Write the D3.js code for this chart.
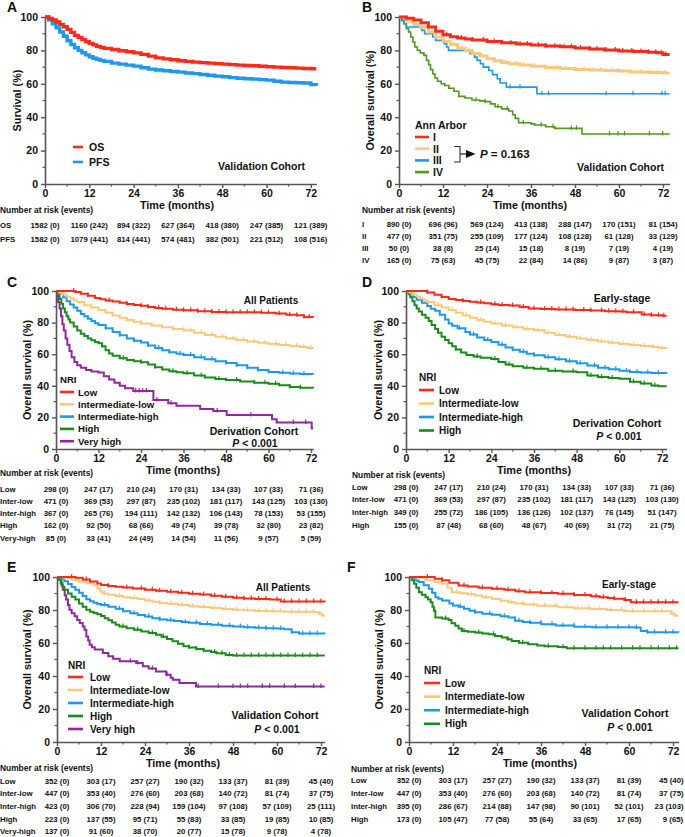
<!DOCTYPE html>
<html><head><meta charset="utf-8">
<script src="https://cdn.jsdelivr.net/npm/d3@7"></script>
<style>
body{margin:0;background:#fff}
svg{display:block}
text{font-family:"Liberation Sans",Arial,sans-serif;font-weight:bold;fill:#111}
</style>
</head><body><svg id="c" width="685" height="837"></svg>
<script>
// ---------------- DATA ----------------
const monthTicks = [0,12,24,36,48,60,72];
const monthMinor = [6,18,30,42,54,66];
const survTicks = [0,20,40,60,80,100];
const survMinor = [10,30,50,70,90];

// Panel A
const A_OS = [[0,100],[1,99.2],[2,98.2],[3,97],[4,95.6],[5,94.2],[6,92.6],[7,90.8],[8,89],[9,87.8],[10,86.5],[11,85.2],[12,84.2],[13,83.3],[14,82.4],[15,81.8],[16,81.2],[18,80.5],[20,79.8],[22,79.2],[24,78.5],[26,77.6],[28,76.6],[30,75.5],[32,74.9],[34,74.4],[36,73.8],[38,73.4],[40,73],[42,72.7],[44,72.4],[46,72.1],[48,71.8],[50,71.5],[52,71.2],[54,71],[56,70.8],[58,70.5],[60,70.2],[62,70],[64,69.8],[66,69.6],[68,69.4],[70,69.2],[72,69],[73.5,69]];
const A_PFS = [[0,100],[1,98.3],[2,96],[3,93.5],[4,91],[5,88.5],[6,85.8],[7,83.5],[8,81.6],[9,80],[10,78.6],[11,77.3],[12,76.2],[13,75.3],[14,74.6],[15,74],[16,73.4],[18,72.4],[20,71.8],[22,71.2],[24,70.6],[26,69.6],[28,68.8],[30,68.3],[32,67.8],[34,67.4],[36,67],[38,66.5],[40,66.1],[42,65.6],[44,65.1],[46,64.6],[48,64.2],[50,63.7],[52,63.3],[54,63],[56,62.8],[58,62.5],[60,62.2],[62,61.5],[64,61],[66,60.8],[68,60.6],[70,60.5],[72,59.5],[73.5,58.8]];
const A_labels = ["OS","PFS"];
const A_risk = [["1582 (0)","1160 (242)","894 (322)","627 (364)","418 (380)","247 (385)","121 (389)"],
                ["1582 (0)","1079 (441)","814 (441)","574 (481)","382 (501)","221 (512)","108 (516)"]];

// Panel B
const B_I = [[0,100],[2,99.3],[4,98.2],[6,96.5],[8,94],[10,91.5],[12,89.3],[14,88.2],[16,87.4],[18,86.8],[20,86.3],[24,85.4],[28,84.6],[32,83.9],[36,83.2],[40,82.7],[44,82.2],[48,81.5],[52,80.8],[56,80.2],[60,79.7],[64,79.3],[68,78.9],[70.5,78.6],[72,77.6],[73.8,77.6]];
const B_II = [[0,100],[2,97.5],[4,95.5],[6,93.8],[8,91],[10,88],[12,85.5],[14,83.5],[16,81.5],[18,79.8],[20,78.2],[22,76.6],[24,75],[26,73.8],[28,72.8],[30,72],[33,71.2],[36,70.5],[40,69.8],[44,69.2],[48,68.6],[52,68.2],[56,68],[60,67.7],[63,67],[68,66.8],[72,66.5],[73.8,66.5]];
const B_III = [[0,100],[0.6,98],[1.4,96],[2,94],[6.2,92],[7,90],[9.2,88],[10,86],[12.3,84],[13,82],[13.5,80],[19.4,78],[20.6,76],[21.3,74],[22.2,72],[23,70],[24.5,68],[25.5,65.5],[26.8,63],[27.6,60.5],[29.3,58],[37.6,54],[73.8,54]];
const B_IV = [[0,100],[0.8,98],[1.4,96],[2,93],[2.6,91],[3.2,88],[3.8,85],[4.3,82],[5,80],[5.8,78.5],[6.8,77],[7.5,74],[8.1,71.5],[8.6,68.5],[9.2,66],[9.8,63.5],[10.5,61.5],[11.5,60],[12.5,59],[13.6,57.3],[15,55.5],[16.3,52.5],[18,51.5],[19.9,50.3],[22,49.8],[23.5,49.3],[25,48],[26.2,46.3],[28,45],[29.9,43.7],[31,41.5],[31.7,39.3],[32.6,36.7],[36,36],[37,35.3],[40,34.3],[42.5,33.3],[49.9,29.9],[73.8,29.9]];
const B_cI = [13,17,20,23,26,28,30.5,33,35,38,40,42.5,45,47,49.5,52,54,56.5,59,61,63.5,66,68,70,71.5,72.8];
const B_cII = [15,19,22.5,26,29,32,34,37,40,43,45.5,48,50.5,53,55,58,60,63,66,68.5,70.5,72.5];
const B_cIII = [30.3,33,39,40.8,56.5,63.8,71.7,72.6];
const B_cIV = [21,23.5,27,29.5,33.9,38.8,42,47,48.4,57.4,59.7,61.5,68.3,71.9];
const B_labels = ["I","II","III","IV"];
const B_risk = [["890 (0)","696 (96)","569 (124)","413 (138)","288 (147)","170 (151)","81 (154)"],
                ["477 (0)","351 (75)","255 (109)","177 (124)","108 (128)","61 (128)","33 (129)"],
                ["50 (0)","38 (8)","25 (14)","15 (18)","8 (19)","7 (19)","4 (19)"],
                ["165 (0)","75 (63)","45 (75)","22 (84)","14 (86)","9 (87)","3 (87)"]];

// Panel C
const C_low = [[0,100],[4,100],[5.5,99.3],[7,98.3],[9,97],[11,95.6],[12.5,94.8],[14,94],[16,93.3],[18,92.6],[20,91.8],[22,91.2],[24,90.6],[26,89.8],[28,89.2],[30,88.8],[33,88.2],[36,87.8],[40,87.2],[44,86.7],[48,86.5],[54,86.5],[58,86.3],[62,85.7],[65,85],[68,84.6],[70,83.6],[72.6,83.4]];
const C_il = [[0,100],[1,99],[2,97.8],[3,96.5],[4,95.2],[5,94],[6,93],[8,91],[10,89.5],[12,88],[14,86.2],[16,84.5],[18,83],[20,81.6],[22,80.5],[24,79.5],[27,78.2],[30,77],[33,76],[36,75.1],[39,73.6],[42,72.2],[45,71],[48,70],[51,69],[54,68],[57,67.2],[60,66.5],[63,65.8],[66,65.2],[69,64.6],[71,64],[72.6,63.8]];
const C_ih = [[0,100],[1,98.5],[2,96],[3,93.5],[4,91.5],[5,89.5],[6,87.5],[7,85.5],[8,84],[9,82.5],[10,81],[11,79.6],[12,78.5],[14,76.5],[16,74],[18,72],[20,70],[22,68.5],[24,67.4],[26,65.5],[28,64],[30,62.5],[32,61.3],[34,60.3],[36,59.5],[39,58],[42,56.8],[45,55.5],[48,54.4],[51,53],[54,51.5],[57,50],[60,48.8],[63,48.2],[66,47.8],[69,47.5],[72.6,47.3]];
const C_hi = [[0,100],[0.5,97.5],[1,95],[1.5,92],[2,89],[2.5,86.5],[3,84],[3.5,82],[4,80],[5,77.5],[6,75],[7,73],[8,71.5],[9,70],[10,68.8],[11,67.8],[12,67],[13,65],[14,62.5],[15,60.5],[16,59],[18,57.5],[20,56.3],[22,55.5],[24,54.9],[26,53.5],[28,51.8],[30,50.3],[32,49.2],[34,48.5],[36,47.9],[39,46.5],[42,45.2],[45,44.3],[48,43.7],[52,42.8],[56,42],[60,41.3],[63,40.3],[66,39.3],[69,38.8],[72.6,38.4]];
const C_vh = [[0,100],[0.3,97],[0.6,93],[1,89],[1.4,84],[1.8,79],[2.2,75],[2.7,70],[3.2,66],[3.8,62],[4.4,58],[5.2,55],[6,53],[7,51.5],[8.5,50],[10,49],[12,48.4],[13.5,46],[15,44],[16.5,42],[18,40],[19.5,38.5],[21.8,36.7],[27.5,31],[31.7,28.9],[34,27.4],[40.7,25.3],[44.4,24],[48.2,21.5],[61,18.8],[62.3,16.7],[72.2,13],[72.6,13]];
const C_cLow = [5,9,15,20,24,26,29,31,34,36,38,40,42,44,46,48,50,52,54,56,58,60,63,66,68,70,71.5];
const C_cIl = [8,12,16,20,24,27,30,33,36,38,41,44,47,50,53,56,59,62,65,68,70,72];
const C_cIh = [14,18,22,26,29,32,35,38,41,44,48,51,54,57,60,64,67,70];
const C_cHi = [13,19,24,28,33,37,41,46,51,56,59,62,66,69];
const C_cVh = [22.5,23.5,24.5,25.5,28.5,32.5,45.5,55,67,70.5];
const NRI5 = ["Low","Inter-low","Inter-high","High","Very-high"];
const NRI4 = ["Low","Inter-low","Inter-high","High"];
const C_risk = [["298 (0)","247 (17)","210 (24)","170 (31)","134 (33)","107 (33)","71 (36)"],
                ["471 (0)","369 (53)","297 (87)","235 (102)","181 (117)","143 (125)","103 (130)"],
                ["367 (0)","265 (76)","194 (111)","142 (132)","106 (143)","78 (153)","53 (155)"],
                ["162 (0)","92 (50)","68 (66)","49 (74)","39 (78)","32 (80)","23 (82)"],
                ["85 (0)","33 (41)","24 (49)","14 (54)","11 (56)","9 (57)","5 (59)"]];

// Panel D
const D_low = [[0,100],[4.5,100],[6,99],[8,97.6],[10,96.2],[12,95],[14,94.3],[16,93.7],[18,93.2],[20,92.8],[22,92.2],[24,91.6],[26,91.2],[29,90.8],[32,89.8],[34.5,89],[38,88.6],[42,88.3],[47.6,88],[52,87.6],[56,87.2],[60,87],[62,86.6],[66.3,85.2],[69,84.6],[72,84.4],[73.3,84.4]];
const D_il = [[0,100],[1,99],[2,97.8],[3,96.5],[4,95.2],[5,94],[6,93],[8,91],[10,89.5],[12,88],[14,86.2],[16,84.5],[18,83],[20,81.6],[22,80.5],[24,79.5],[27,78.2],[30,77],[33,76],[36,75.1],[39,73.6],[42,72.2],[45,71],[48,70],[51,69],[54,68],[57,67.2],[60,66.5],[63,65.8],[66,65.2],[69,64.6],[71,64],[73.3,63.8]];
const D_ih = [[0,100],[1,98.5],[2,96.2],[3,94.5],[4.5,92.5],[6,90.5],[7,88.8],[8.2,87.5],[9.5,85],[11,82],[12,79.5],[13,78],[14.5,76.5],[16.7,74],[18,72.5],[20,70.5],[22,69],[24,67.7],[26,66],[28,64.3],[30,62.8],[32,61.5],[34,60.3],[36,59.4],[39,58],[42,56.8],[45,55.5],[48,54.2],[51,52.8],[54,51.5],[57,50.5],[60,49.5],[63,48.8],[66,48.4],[69,48.1],[73.3,48]];
const D_hi = [[0,100],[0.7,98],[1.2,96],[1.8,93.5],[2.4,91],[3,89],[3.6,87],[4.5,85],[5.5,83],[6.4,81],[7.2,78.5],[8.2,76],[9,73.5],[10,71],[11,69],[12,67],[13,65],[14,63],[15.5,61],[17,59.5],[19,58.5],[21,57.8],[24,57],[26,55],[28,53.5],[30,52.3],[33,51.5],[36,50.8],[40,49.5],[44,49],[48,48.5],[51,46.5],[54,45.5],[57,45],[60,44.5],[63,42.5],[66,41.5],[69,40.2],[71,39.7],[73.3,39.7]];
const D_cLow = [6,10,16,21,25,27,30,33,36,39,41,43,45,47,50,52,55,57,59,61,64,67,69,71,72.5];
const D_cIl = [9,13,17,21,25,28,31,34,37,40,43,46,49,52,55,58,61,64,67,69.5,72];
const D_cIh = [15,19,23,27,30,33,36,40,43,46,49,53,56,59,62,65,68,71];
const D_cHi = [14,20,25,29,34,38,42,47,52,55,58,64,67,70];
const D_risk = [["298 (0)","247 (17)","210 (24)","170 (31)","134 (33)","107 (33)","71 (36)"],
                ["471 (0)","369 (53)","297 (87)","235 (102)","181 (117)","143 (125)","103 (130)"],
                ["349 (0)","255 (72)","186 (105)","136 (126)","102 (137)","76 (145)","51 (147)"],
                ["155 (0)","87 (48)","68 (60)","48 (67)","40 (69)","31 (72)","21 (75)"]];

// Panel E
const E_low = [[0,100],[3,100],[5,99.5],[7,98.5],[9,97.3],[11,96],[12,95.2],[14,94.6],[16,94.1],[18,93.6],[20.7,93.1],[24,92.2],[27,91.6],[30,91],[33,90.4],[36,89.9],[39,89.4],[42,88.6],[45,88],[48,87.4],[51,87],[54,86.6],[58,86.4],[61,85.1],[73,84.8]];
const E_il = [[0,100],[2,99.3],[4,98.3],[6,97.3],[8,96.3],[10,95],[11,93],[11.8,91],[12.5,90],[14,89.2],[16,88.5],[18,87.8],[20,87.2],[22,86.6],[24,85.8],[26,85],[28,84.3],[30,83.8],[33,83.1],[36,82.3],[39,81.8],[42,81.2],[45,80.6],[48,80.2],[51,79.8],[54,79.4],[58,79.2],[62,79],[66,79],[70,78.8],[71.5,77.5],[72.5,76.5],[73,76.5]];
const E_ih = [[0,100],[1,99],[2,97.5],[3,95.8],[4,94],[5,92.3],[6,90.5],[7,88.5],[8,86.5],[9,85.3],[10,84.4],[11,83.6],[12,83],[14,82],[16,80.8],[18,79.3],[20,78],[22,77],[24,76],[26,75],[28,74.3],[30,73.8],[32,73.3],[34,72.8],[36,72.2],[39,71.5],[42,71],[45,70.5],[48,70],[51,69.6],[54,69.3],[57,69],[60,68.8],[62,68.4],[64,66.5],[66,65.8],[73,65.6]];
const E_hi = [[0,100],[0.5,98.3],[1,96.2],[1.5,94],[2,92.3],[3,90],[4,88],[5,86.3],[6,84],[7,82],[8,80.2],[9,79],[10,78.2],[11,77.4],[12,76.3],[13,75],[14,73.8],[15,72.5],[16,71],[17,70],[19,69],[21,68],[23,67],[25,66],[27,65],[28.5,63.8],[30,62.5],[31.5,61],[33,59.5],[34.5,58],[36,57.2],[38,56.3],[40,55.3],[42,54.5],[43.5,53.8],[46,52.8],[48,52.5],[73,52.5]];
const E_vh = [[0,100],[0.7,98.4],[1.2,95],[1.6,92.3],[2.1,89],[2.5,86.3],[3,83],[3.4,80.2],[4,78],[4.8,76.2],[5.5,74],[6.2,72.1],[7,70],[7.5,68],[8,64],[8.5,61.5],[8.9,59],[9.5,57.5],[10.3,56],[12.5,53.9],[14,52],[15.3,50.5],[17.1,48.9],[21.6,47.9],[23.4,45.9],[25,44.5],[27,42.8],[29.8,40.8],[31,39],[31.6,37.8],[33.4,35.8],[37.9,33.7],[73,33.7]];
const E_cLow = [4,8,14,19,23,26,28,31,34,37,40,43,46,49,51,53,55,57,60,62,64,66,68,70,72];
const E_cIl = [7,13,17,21,25,28,31,34,37,40,43,46,49,52,55,57,59,61,64,66,68,70,72];
const E_cIh = [13,17,21,25,28,31,35,38,41,44,47,50,52,55,57,59,61,64,67,69,71];
const E_cHi = [18,22,26,29,36,38,40,43,45,47,49,51,53,55,57,59,61,63,65,67,69,71];
const E_cVh = [20,22,26,30,38.5,44,48,50,52,56,58,62,65,70,72];
const E_risk = [["352 (0)","303 (17)","257 (27)","190 (32)","133 (37)","81 (39)","45 (40)"],
                ["447 (0)","353 (40)","276 (60)","203 (68)","140 (72)","81 (74)","37 (75)"],
                ["423 (0)","306 (70)","228 (94)","159 (104)","97 (108)","57 (109)","25 (111)"],
                ["223 (0)","137 (55)","95 (71)","55 (83)","33 (85)","19 (85)","10 (85)"],
                ["137 (0)","91 (60)","38 (70)","20 (77)","15 (78)","9 (78)","4 (78)"]];

// Panel F
const F_low = [[0,100],[4.5,100],[7,99],[9,98],[11,96.5],[13.5,94.9],[16,94.2],[19,93.5],[22.6,92.9],[26,92.2],[29,91.4],[31.6,90.8],[36,90.3],[40.6,89.8],[45,89.1],[49.6,88.4],[52,87.8],[54.2,87.3],[56,86.8],[58.7,86.1],[60.5,84.7],[73.5,84.7]];
const F_il = [[0,100],[2,99.5],[4.5,98],[7,97],[9,95.9],[10.5,93.5],[11.7,90.8],[14,90.2],[16,89.5],[18,88.8],[20,87.8],[22.6,86.7],[25,85.6],[27.1,84.7],[29,84],[31.6,83.3],[35,82.6],[40.6,81.6],[45,81.1],[49.6,80.6],[54,80],[58.7,79.2],[65,79.2],[70.4,79.2],[71.5,77.8],[72.5,76.5],[73.5,76.5]];
const F_ih = [[0,100],[1,99],[2,97.8],[2.7,96.9],[4,95],[5.4,92.9],[6.3,90.5],[7.2,87.8],[8,86.8],[9,85.7],[11,84],[12,82.7],[13.5,82],[15,80.8],[16.5,79.6],[18,78.6],[20,77.8],[22.6,77.1],[25,76.2],[27.1,75.5],[28.9,73.5],[31,72.8],[33,72.2],[36.1,71.4],[40,70.6],[45.1,69.8],[50,69.6],[55,69.5],[61.4,69.4],[63.2,67.3],[65,66.5],[73.5,66.3]];
const F_hi = [[0,100],[0.7,98],[1.4,95.9],[2,93.5],[2.7,90.8],[3.5,89.3],[4.5,87.8],[5.2,86.3],[5.9,84.7],[6.4,82],[6.8,79.6],[7.2,75.5],[9,74.8],[10.8,73.9],[11.6,72],[12.6,70.4],[13.5,68.8],[14.4,67.3],[16,66.8],[18,66.3],[20,65.8],[21.7,65.3],[23.5,64.3],[25.3,63.3],[26.8,62.2],[28,61.2],[30,60.2],[32.5,59.2],[35,58.5],[37,58],[40.6,57.6],[43,56.8],[73.5,56.8]];
const F_cLow = [5,9,15,20,24,27,30,33,36,39,42,45,48,51,53,56,59,62,64,66,68,70,72];
const F_cIl = [8,13,17,21,25,28,31,34,37,40,43,46,49,52,55,58,61,64,67,69,72];
const F_cIh = [14,18,22,26,30,33,36,39,42,45,48,51,54,57,60,62,65,67,70,72];
const F_cHi = [10,15,19,23,27,31,38,42,45,48,51,53,55,58,61,63,66,68,71,73];
const F_risk = [["352 (0)","303 (17)","257 (27)","190 (32)","133 (37)","81 (39)","45 (40)"],
                ["447 (0)","353 (40)","276 (60)","203 (68)","140 (72)","81 (74)","37 (75)"],
                ["395 (0)","286 (67)","214 (88)","147 (98)","90 (101)","52 (101)","23 (103)"],
                ["173 (0)","105 (47)","77 (58)","55 (64)","33 (65)","17 (65)","9 (65)"]];

const legNRI5 = ["Low","Intermediate-low","Intermediate-high","High","Very high"];
const legNRI4 = ["Low","Intermediate-low","Intermediate-high","High"];

// ---------------- STYLE ----------------
const RED="#ff2a17", YEL="#fcc97a", BLU="#1d98f0", GRN="#1a8c1a", GRNB="#4f9a1d", PUR="#8d2a9c", AX="#555";
const W = 685;

const svg = d3.select("#c");

function stepAt(data, t){ let v=data[0][1]; for(const d of data){ if(d[0]<=t) v=d[1]; else break; } return v; }

function drawPanel(p){
  const g = svg.append("g");
  const xr = p.x0 + (p.x72-p.x0)*p.xEnd/72;
  const x = d3.scaleLinear().domain([0,p.xEnd]).range([p.x0,xr]);
  const y = d3.scaleLinear().domain([0,100]).range([p.y0,p.y100]);

  g.append("text").attr("x",p.lx).attr("y",p.ly).attr("font-size",14).text(p.id);

  const xa = g.append("g").attr("transform",`translate(0,${p.y0})`)
    .call(d3.axisBottom(x).tickValues(monthTicks).tickSize(4).tickSizeOuter(0).tickPadding(2).tickFormat(d3.format("d")));
  const ya = g.append("g").attr("transform",`translate(${p.x0},0)`)
    .call(d3.axisLeft(y).tickValues(survTicks).tickSize(4).tickSizeOuter(0).tickPadding(3).tickFormat(d3.format("d")));
  [xa,ya].forEach(a=>{
    a.select(".domain").attr("stroke",AX).attr("stroke-width",1.6);
    a.selectAll(".tick line").attr("stroke",AX).attr("stroke-width",1.4);
    a.selectAll(".tick text").attr("font-size",10.5).attr("font-family","Liberation Sans, Arial, sans-serif").attr("font-weight","bold").attr("fill","#111");
  });
  g.selectAll(null).data(monthMinor).enter().append("line")
    .attr("x1",d=>x(d)).attr("x2",d=>x(d)).attr("y1",p.y0).attr("y2",p.y0+2.5).attr("stroke",AX).attr("stroke-width",1.2);
  g.selectAll(null).data(survMinor).enter().append("line")
    .attr("x1",p.x0).attr("x2",p.x0-2.5).attr("y1",d=>y(d)).attr("y2",d=>y(d)).attr("stroke",AX).attr("stroke-width",1.2);

  g.append("text").attr("x",p.tx).attr("y",p.y0+25).attr("text-anchor","middle").attr("font-size",10.8).text("Time (months)");
  g.append("text").attr("transform",`translate(${p.ytx},${(p.y0+p.y100)/2}) rotate(-90)`)
    .attr("text-anchor","middle").attr("dominant-baseline","central").attr("font-size",10.8).text(p.ytitle);

  const line = d3.line().x(d=>x(d[0])).y(d=>y(d[1])).curve(d3.curveStepAfter);
  p.series.slice().reverse().forEach(s=>{
    g.append("path").attr("d",line(s.data)).attr("fill","none").attr("stroke",s.color)
      .attr("stroke-width",s.w).attr("stroke-linejoin","miter");
    if(s.cens){
      g.selectAll(null).data(s.cens).enter().append("line")
        .attr("x1",d=>x(d)).attr("x2",d=>x(d))
        .attr("y1",d=>y(stepAt(s.data,d))-3).attr("y2",d=>y(stepAt(s.data,d))+1.5)
        .attr("stroke",s.color).attr("stroke-width",1.2);
    }
  });

  const L = p.legend;
  if(L.title) g.append("text").attr("x",L.x1).attr("y",L.titleY).attr("dominant-baseline","central").attr("font-size",L.fs).attr("fill","#111").text(L.title);
  p.series.forEach((s,i)=>{
    const yy = L.y + i*L.dy;
    g.append("line").attr("x1",L.x1).attr("x2",L.x2).attr("y1",yy).attr("y2",yy).attr("stroke",s.color).attr("stroke-width",2.6);
    g.append("text").attr("x",L.tx).attr("y",yy).attr("dominant-baseline","central").attr("font-size",L.fs).attr("fill","#111").text(L.labels[i]);
  });

  p.notes.forEach(n=>{
    const t = g.append("text").attr("x",n.x).attr("y",n.y).attr("text-anchor",n.anchor||"middle")
      .attr("dominant-baseline","central").attr("font-size",n.fs||10.5);
    if(n.p){ t.append("tspan").attr("font-style","italic").text("P"); t.append("tspan").text(n.text); }
    else t.text(n.text);
  });

  g.append("text").attr("x",p.rx).attr("y",p.rHeadY).attr("dominant-baseline","central").attr("font-size",8.4).text("Number at risk (events)");
  p.riskRows.forEach((row,i)=>{
    const yy = p.rY0 + i*p.rDy;
    g.append("text").attr("x",p.rx).attr("y",yy).attr("dominant-baseline","central").attr("font-size",7.8).text(p.riskLabels[i]);
    g.selectAll(null).data(row).enter().append("text")
      .attr("x",(d,j)=>x(monthTicks[j])).attr("y",yy).attr("text-anchor","middle")
      .attr("dominant-baseline","central").attr("font-size",7.8).text(d=>d)
      .each(function(){
        const b = this.getBBox();
        if(b.x + b.width > W-1){ d3.select(this).attr("x", +d3.select(this).attr("x") - (b.x + b.width - (W-1))); }
      });
  });
  return {x,y,g};
}

drawPanel({id:"A",lx:7,ly:12,x0:45,x72:310.8,xEnd:73.5,y0:184,y100:17,tx:177,ytx:17,ytitle:"Survival (%)",
  series:[{data:A_OS,color:RED,w:3.4},{data:A_PFS,color:BLU,w:3.4}],
  legend:{x1:73,x2:83,tx:89,y:147,dy:15,fs:10.5,labels:A_labels},
  notes:[{x:305,y:166,text:"Validation Cohort",anchor:"end"}],
  rx:0,rHeadY:210,rY0:225,rDy:14,riskRows:A_risk,riskLabels:A_labels});

const pB = drawPanel({id:"B",lx:362,ly:12,x0:399,x72:663,xEnd:73.8,y0:184,y100:17,tx:530,ytx:370,ytitle:"Overall survival (%)",
  series:[{data:B_I,color:RED,w:3,cens:B_cI},{data:B_II,color:YEL,w:3,cens:B_cII},{data:B_III,color:BLU,w:1.6,cens:B_cIII},{data:B_IV,color:GRNB,w:1.6,cens:B_cIV}],
  legend:{x1:415,x2:429,tx:433,y:137,dy:11.7,fs:10.5,labels:B_labels,title:"Ann  Arbor",titleY:125},
  notes:[{x:664,y:167,text:"Validation Cohort",anchor:"end"}],
  rx:362,rHeadY:210,rY0:224,rDy:12,riskRows:B_risk,riskLabels:B_labels});
pB.g.append("path").attr("d","M454,146.5 H460 V162 H454").attr("fill","none").attr("stroke","#333").attr("stroke-width",1.1);
pB.g.append("line").attr("x1",460).attr("x2",467).attr("y1",154).attr("y2",154).attr("stroke","#111").attr("stroke-width",1.1);
pB.g.append("path").attr("d","M466,150 L475.5,154 L466,158 Z").attr("fill","#111");
{ const t = pB.g.append("text").attr("x",480).attr("y",154).attr("dominant-baseline","central").attr("font-size",11.5);
  t.append("tspan").attr("font-style","italic").text("P"); t.append("tspan").text(" = 0.163"); }

drawPanel({id:"C",lx:7,ly:287,x0:56,x72:311,xEnd:72.6,y0:449,y100:291,tx:183,ytx:27,ytitle:"Overall survival (%)",
  series:[{data:C_low,color:RED,w:2,cens:C_cLow},{data:C_il,color:YEL,w:2,cens:C_cIl},{data:C_ih,color:BLU,w:2,cens:C_cIh},{data:C_hi,color:GRN,w:2,cens:C_cHi},{data:C_vh,color:PUR,w:2,cens:C_cVh}],
  legend:{x1:60,x2:74,tx:78,y:392,dy:12.3,fs:9.6,labels:legNRI5,title:"NRI",titleY:379},
  notes:[{x:271,y:300,text:"All Patients",fs:10},{x:254,y:431,text:"Derivation Cohort",fs:10.5},{x:255,y:443,text:" < 0.001",p:true,fs:10.5}],
  rx:0,rHeadY:473,rY0:489,rDy:12.3,riskRows:C_risk,riskLabels:NRI5});

drawPanel({id:"D",lx:362,ly:287,x0:406,x72:662,xEnd:73.3,y0:449,y100:291,tx:534,ytx:378,ytitle:"Overall survival (%)",
  series:[{data:D_low,color:RED,w:2,cens:D_cLow},{data:D_il,color:YEL,w:2,cens:D_cIl},{data:D_ih,color:BLU,w:2,cens:D_cIh},{data:D_hi,color:GRN,w:2,cens:D_cHi}],
  legend:{x1:419,x2:434,tx:439,y:390,dy:13.5,fs:10,labels:legNRI4,title:"NRI",titleY:377},
  notes:[{x:622,y:298,text:"Early-stage",fs:10.5},{x:617,y:423,text:"Derivation Cohort",fs:10.5},{x:619,y:436,text:" < 0.001",p:true,fs:10.5}],
  rx:352,rHeadY:475,rY0:487,rDy:12.7,riskRows:D_risk,riskLabels:NRI4});

drawPanel({id:"E",lx:7,ly:572,x0:57,x72:321,xEnd:73,y0:742,y100:577,tx:183,ytx:27,ytitle:"Overall survival (%)",
  series:[{data:E_low,color:RED,w:2,cens:E_cLow},{data:E_il,color:YEL,w:2,cens:E_cIl},{data:E_ih,color:BLU,w:2,cens:E_cIh},{data:E_hi,color:GRN,w:2,cens:E_cHi},{data:E_vh,color:PUR,w:2,cens:E_cVh}],
  legend:{x1:68,x2:83,tx:90,y:677,dy:13,fs:10,labels:legNRI5,title:"NRI",titleY:665},
  notes:[{x:283,y:587,text:"All Patients",fs:10},{x:275,y:715,text:"Validation Cohort",fs:10.5},{x:277,y:729,text:" < 0.001",p:true,fs:10.5}],
  rx:0,rHeadY:768,rY0:781,rDy:12.7,riskRows:E_risk,riskLabels:NRI5});

drawPanel({id:"F",lx:347,ly:572,x0:409,x72:673,xEnd:73.5,y0:742,y100:577,tx:540,ytx:379,ytitle:"Overall survival (%)",
  series:[{data:F_low,color:RED,w:2,cens:F_cLow},{data:F_il,color:YEL,w:2,cens:F_cIl},{data:F_ih,color:BLU,w:2,cens:F_cIh},{data:F_hi,color:GRN,w:2,cens:F_cHi}],
  legend:{x1:424,x2:440,tx:445,y:683,dy:13.6,fs:10,labels:legNRI4,title:"NRI",titleY:670},
  notes:[{x:629,y:584,text:"Early-stage",fs:10},{x:625,y:713,text:"Validation Cohort",fs:10.5},{x:630,y:727,text:" < 0.001",p:true,fs:10.5}],
  rx:351,rHeadY:769,rY0:780,rDy:13,riskRows:F_risk,riskLabels:NRI4});
</script></body></html>
